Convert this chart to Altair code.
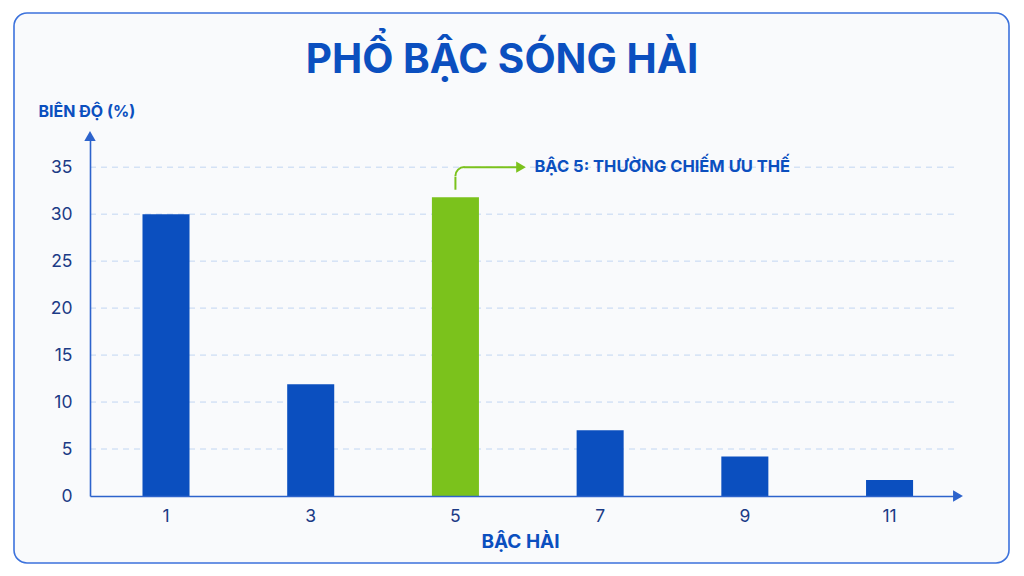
import altair as alt
import pandas as pd
import math

# ---- data ----
harmonics = ["1", "3", "5", "7", "9", "11"]
amplitudes = [30.0, 11.9, 31.8, 7.0, 4.2, 1.7]
highlight = ["no", "no", "yes", "no", "no", "no"]
y_ticks = [0, 5, 10, 15, 20, 25, 30, 35]

title_text = "PHỔ BẬC SÓNG HÀI"
y_title = "BIÊN ĐỘ (%)"
x_title = "BẬC HÀI"
note_text = "BẬC 5: THƯỜNG CHIẾM ƯU THẾ"

df = pd.DataFrame({"harmonic": harmonics, "amp": amplitudes, "hl": highlight})
grid_df = pd.DataFrame({"v": [t for t in y_ticks if t > 0]})
one = pd.DataFrame({"k": [0]})

FONT = "Inter"
BLUE = "#0b4fbf"
GREEN = "#7bc21c"
AXIS_BLUE = "#2d63cc"
LABEL = "#1c3b86"

W, H = 870, 357

x_scale = alt.Scale(paddingInner=0.675, paddingOuter=0.3435, align=0.528)

x_enc = alt.X(
    "harmonic:N",
    sort=harmonics,
    scale=x_scale,
    axis=alt.Axis(
        title=x_title, labelAngle=0, labelFontSize=17.5, labelColor=LABEL,
        labelPadding=11, ticks=False, domainColor=AXIS_BLUE, domainWidth=1.6,
        titleFontSize=19, titleFontWeight="bold", titleColor=BLUE,
        titleX=430, titleY=45, titleBaseline="middle", titleFont=FONT,
        labelFont=FONT, grid=False, zindex=1,
    ),
)
y_enc = alt.Y(
    "amp:Q",
    scale=alt.Scale(domain=[0, 38], nice=False),
    axis=alt.Axis(
        values=y_ticks, title=y_title, titleAngle=0, titleAlign="left",
        titleBaseline="middle", titleX=-52, titleY=-28, titleFontSize=16,
        titleFontWeight="bold", titleColor=BLUE, titleFont=FONT,
        labelFontSize=17.5, labelColor=LABEL, labelPadding=18, labelFont=FONT,
        ticks=False, domainColor=AXIS_BLUE, domainWidth=1.6,
        grid=False, zindex=1,
    ),
)

card = alt.Chart(one).mark_rect(
    fill="#f9fafc", stroke="#3c72dc", strokeWidth=1.6, cornerRadius=13
).encode(
    x=alt.value(-76), x2=alt.value(919), y=alt.value(-126), y2=alt.value(424)
)

grid = alt.Chart(grid_df).mark_rule(
    color="#c2d6f2", strokeDash=[6, 5], strokeWidth=1
).encode(y=alt.Y("v:Q"), x=alt.value(0), x2=alt.value(868))

bars = alt.Chart(df).mark_bar().encode(
    x=x_enc,
    y=y_enc,
    color=alt.Color("hl:N", scale=alt.Scale(domain=["no", "yes"], range=[BLUE, GREEN]), legend=None),
)

title = alt.Chart(one).mark_text(
    text=title_text, font=FONT, fontSize=40.5, fontWeight="bold", color=BLUE,
    align="center", baseline="alphabetic"
).encode(x=alt.value(412), y=alt.value(-66))

y_arrow = alt.Chart(one).mark_point(
    shape="triangle-up", filled=True, color=AXIS_BLUE, size=130, opacity=1
).encode(x=alt.value(0), y=alt.value(-3))

x_arrow = alt.Chart(one).mark_point(
    shape="triangle-right", filled=True, color=AXIS_BLUE, size=130, opacity=1
).encode(x=alt.value(868), y=alt.value(H))

hl_df = alt.Chart(df).transform_filter(alt.datum.hl == "yes")

conn_v = hl_df.mark_rule(color=GREEN, strokeWidth=2).encode(
    x=alt.X("harmonic:N", sort=harmonics), y=alt.datum(32.6), y2=alt.datum(34.0)
)
conn_arc = alt.Chart(one).mark_arc(
    color=GREEN, theta=1.5 * math.pi, theta2=2 * math.pi, radius=10, radius2=8
).encode(x=alt.value(374.4), y=alt.value(37))
conn_h = alt.Chart(one).mark_rule(color=GREEN, strokeWidth=2).encode(
    x=alt.value(374), x2=alt.value(427), y=alt.datum(35)
)
conn_head = alt.Chart(one).mark_point(
    shape="triangle-right", filled=True, color=GREEN, size=125, opacity=1
).encode(x=alt.value(431), y=alt.datum(35))
note = hl_df.mark_text(
    text=note_text, font=FONT, fontSize=16.5, fontWeight="bold", color=BLUE,
    align="left", baseline="middle", dx=79
).encode(x=alt.X("harmonic:N", sort=harmonics), y=alt.datum(35))

chart = alt.layer(
    card, grid, bars, title, y_arrow, x_arrow, conn_v, conn_arc, conn_h, conn_head, note
).properties(
    width=W, height=H,
    autosize=alt.AutoSizeParams(type="none"),
    padding={"left": 82, "top": 131, "right": 52, "bottom": 70},
    background="#ffffff",
).configure_view(stroke=None).configure(font=FONT)

chart.save("out.html", embed_options={"renderer": "svg", "actions": False})
